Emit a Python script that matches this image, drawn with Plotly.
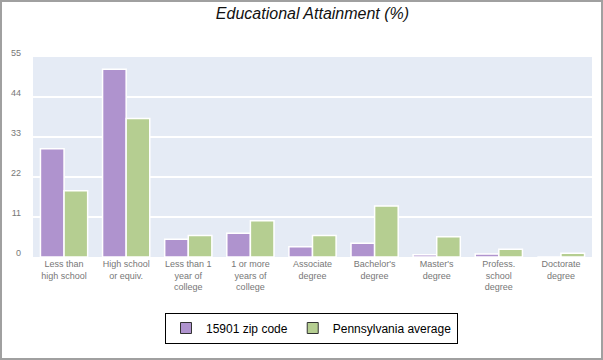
import plotly.graph_objects as go

categories = ["Less than<br>high school", "High school<br>or equiv.", "Less than 1<br>year of<br>college",
              "1 or more<br>years of<br>college", "Associate<br>degree", "Bachelor's<br>degree",
              "Master's<br>degree", "Profess.<br>school<br>degree", "Doctorate<br>degree"]
zip_values = [29.8, 51.6, 4.9, 6.5, 2.8, 3.8, 0.6, 0.8, 0.0]
pa_values = [18.2, 38.1, 5.9, 10.0, 5.9, 14.0, 5.6, 2.1, 1.0]
series_names = ["15901 zip code", "Pennsylvania average"]
tick_vals = [0, 11, 22, 33, 44, 55]

PURPLE = "#AF93CE"
GREEN = "#B5CE91"

fig = go.Figure()
for name, vals, col in [(series_names[0], zip_values, PURPLE), (series_names[1], pa_values, GREEN)]:
    fig.add_trace(go.Bar(x=categories, y=vals, name=name, showlegend=False,
                         marker=dict(color=col, line=dict(color="white", width=1.5))))
for name, col in [(series_names[0], PURPLE), (series_names[1], GREEN)]:
    fig.add_trace(go.Scatter(x=[None], y=[None], mode="markers", name=name,
                             marker=dict(symbol="square", size=11, color=col,
                                         line=dict(color="#333333", width=1))))

fig.update_layout(
    width=603, height=360,
    margin=dict(l=33, r=11, t=57, b=103, autoexpand=False),
    paper_bgcolor="white", plot_bgcolor="#E5EBF5",
    barmode="group", bargap=0.24, bargroupgap=0,
    font=dict(family="Liberation Sans, Arial, sans-serif"),
    title=dict(text="<i>Educational Attainment (%)</i>", x=0.5, xref="paper", y=0.962, yanchor="middle",
               font=dict(size=16, color="#111111", family="Liberation Sans, Arial, sans-serif")),
    xaxis=dict(showgrid=False, zeroline=False, showline=False, ticks="",
               tickfont=dict(size=9, color="#777777"), tickangle=0),
    yaxis=dict(range=[0, 55], tickvals=tick_vals, showgrid=True, gridcolor="white", gridwidth=2,
               zeroline=False, showline=False, tickfont=dict(size=9, color="#777777"),
               ticklabelstandoff=11, ticklabelshift=-4),
    legend=dict(orientation="h", xref="container", yref="container",
                x=311.5 / 603, xanchor="center", y=1 - 312.5 / 360, yanchor="top",
                bordercolor="black", borderwidth=1, bgcolor="white",
                font=dict(size=12, color="black"), itemwidth=30),
    shapes=[dict(type="rect", xref="paper", yref="paper",
                 x0=-32/559, x1=1 + 10/559, y0=-102/200, y1=1 + 56/200,
                 line=dict(color="#A0A0A0", width=2))],
)

fig.write_html("out.html", config={"displayModeBar": False},
               post_script="document.body.style.margin='0';")
